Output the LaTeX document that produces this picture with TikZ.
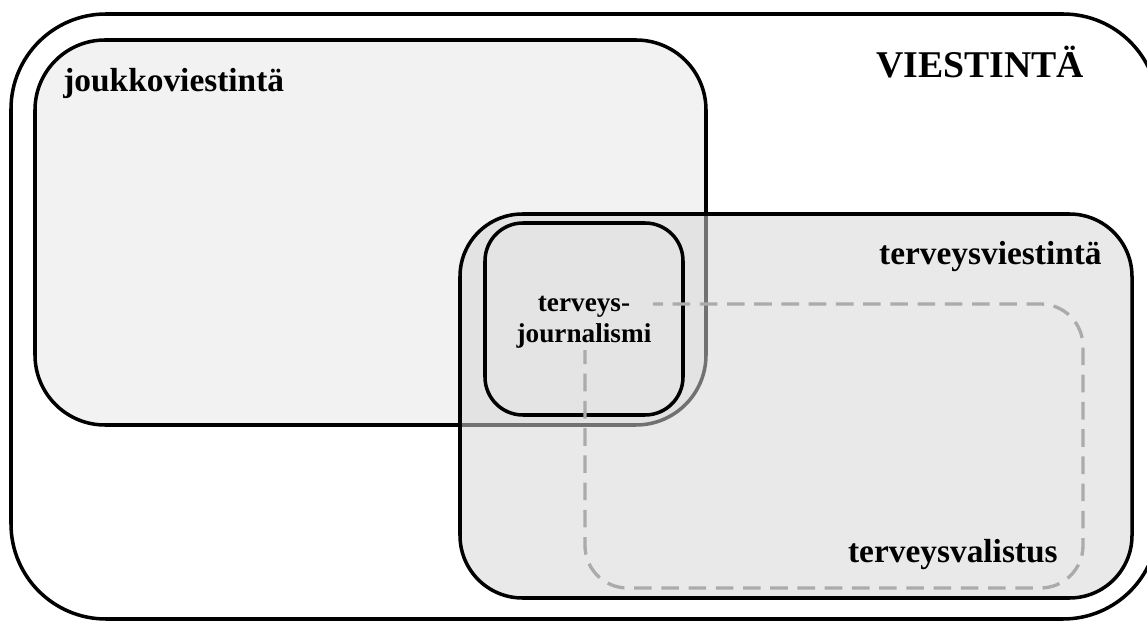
\documentclass[tikz,border=0pt]{standalone}
\usepackage{fontspec}
\setmainfont{Liberation Serif}
\usepackage{tikz}
\usetikzlibrary{positioning}

\definecolor{joukkofill}{gray}{0.95}
\definecolor{terveysfill}{gray}{0.84}
\definecolor{journfill}{gray}{0.895}
\definecolor{dashgray}{gray}{0.67}

\tikzset{
	boxline/.style={line width=2pt, draw=black},
	boxtext/.style={font=\bfseries\fontsize{19}{22}\selectfont, inner sep=0pt},
}

\begin{document}
\begin{tikzpicture}[x=0.02cm,y=-0.02cm]
	\useasboundingbox (0,0) rectangle (1147,621);

	% corners of the boxes
	\coordinate (outnw) at (11,14);
	\coordinate (outse) at (1158,619);
	\coordinate (jvnw) at (35,40);
	\coordinate (jvse) at (706,425);
	\coordinate (tvnw) at (460,214);
	\coordinate (tvse) at (1132,598);
	\coordinate (tjnw) at (485,223);
	\coordinate (tjse) at (683,415);
	\coordinate (tlnw) at (585,304);
	\coordinate (tlse) at (1083,588);

	\draw[boxline, rounded corners=1.9cm] (outnw) rectangle (outse);
	\draw[boxline, fill=joukkofill, rounded corners=1.4cm] (jvnw) rectangle (jvse);
	\draw[boxline, fill=terveysfill, fill opacity=0.53, rounded corners=1.25cm] (tvnw) rectangle (tvse);
	\draw[boxline, fill=journfill, rounded corners=0.76cm] (tjnw) rectangle (tjse);
	\draw[dashgray, line width=1.9pt, dash pattern=on 10pt off 5.5pt, rounded corners=0.85cm] (tlnw) rectangle (tlse);

	\node[boxtext, font=\bfseries\fontsize{21.5}{26}\selectfont, anchor=base] (viestinta) at (980,78) {VIESTINTÄ};
	\node[boxtext, anchor=base west] (joukko) at (63,92) {joukkoviestintä};
	\node[boxtext, anchor=base east] (terveys) at (1102,265) {terveysviestintä};
	\node[boxtext, anchor=base east] (valistus) at (1058,562) {terveysvalistus};
	\node[boxtext, font=\bfseries\fontsize{15.5}{17.5}\selectfont, align=center, fill=journfill, inner sep=1pt] (journalismi) at (584,322) {terveys-\\journalismi};
\end{tikzpicture}
\end{document}
